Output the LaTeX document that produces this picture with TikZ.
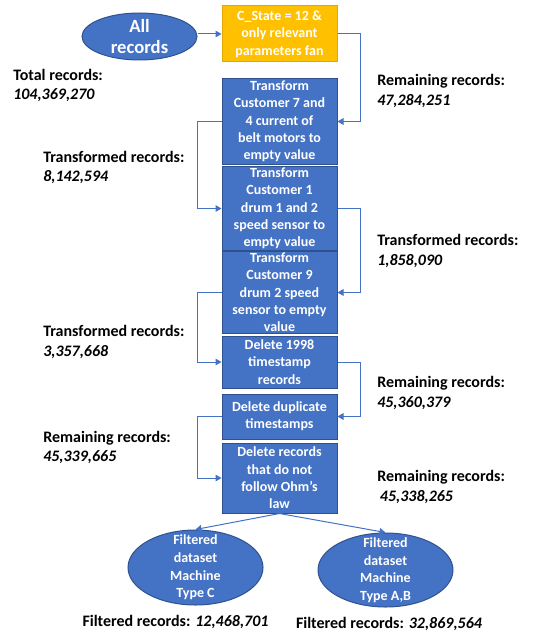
\documentclass[tikz,border=0pt]{standalone}
\usepackage{fontspec}
\setmainfont{Carlito}
\usetikzlibrary{arrows.meta,shapes.geometric}
\definecolor{boxblue}{HTML}{4472C4}
\definecolor{boxedge}{HTML}{2F528F}
\definecolor{fanorange}{HTML}{FFC000}
\definecolor{fanedge}{HTML}{E0A800}
\tikzset{
	procbox/.style={draw=boxedge, fill=boxblue, line width=0.75pt, text=white,
		font=\fontsize{10.5}{13}\selectfont\bfseries, align=center,
		minimum width=86.25pt, inner sep=1pt},
	fanbox/.style={procbox, draw=fanedge, fill=fanorange},
	dataell/.style={ellipse, draw=boxedge, fill=boxblue, line width=0.75pt, text=white,
		font=\fontsize{10.5}{13.2}\selectfont\bfseries, align=center,
		inner xsep=0pt, inner ysep=-8pt},
	recnote/.style={font=\fontsize{12}{14.5}\selectfont\bfseries, align=left,
		anchor=west, inner sep=0pt},
	flow/.style={draw=boxblue, line width=0.75pt, -{Triangle[length=4.5pt,width=5pt]}}
}
\begin{document}
\begin{tikzpicture}[x=0.75pt,y=-0.75pt]
			%%%%% START %%%%%
			\useasboundingbox (0,0) rectangle (543,635);
			
			\node[dataell, minimum width=86.25pt, minimum height=35.25pt,
				font=\fontsize{14}{15.75}\selectfont\bfseries] (allrec) at (139.5,36.5) {All\\records};
			\node[fanbox, minimum height=42pt] (fan) at (279.5,34) {C\_State = 12 \&\\only relevant\\parameters fan};
			
			\node[procbox, minimum height=63.75pt] (cust7) at (279.5,121.5) {Transform\\Customer 7 and\\4 current of\\belt motors to\\empty value};
			\node[procbox, minimum height=60.75pt] (cust1) at (279.5,208.5) {Transform\\Customer 1\\drum 1 and 2\\speed sensor to\\empty value};
			\node[procbox, minimum height=59.25pt] (cust9) at (279.5,292.5) {Transform\\Customer 9\\drum 2 speed\\sensor to empty\\value};
			\node[procbox, minimum height=39pt] (del98) at (279.5,362) {Delete 1998\\timestamp\\records};
			\node[procbox, minimum height=33.75pt] (deldup) at (279.5,416.5) {Delete duplicate\\timestamps};
			\node[procbox, minimum height=52.5pt] (ohm) at (279.5,478) {Delete records\\that do not\\follow Ohm’s\\law};
			
			\node[dataell, minimum width=101.25pt, minimum height=56.25pt] (typeC) at (195.5,567.5) {Filtered\\dataset\\Machine\\Type C};
			\node[dataell, minimum width=101.25pt, minimum height=55.5pt] (typeAB) at (385.5,570) {Filtered\\dataset\\Machine\\Type A,B};
			
			% record counts
			\node[recnote] (total) at (13,85.5) {Total records:\\\textit{104,369,270}};
			\node[recnote] (remfan) at (377,91) {Remaining records:\\\textit{47,284,251}};
			\node[recnote] (trcust7) at (43,167.5) {Transformed records:\\\textit{8,142,594}};
			\node[recnote] (trcust1) at (377,251) {Transformed records:\\\textit{1,858,090}};
			\node[recnote] (trcust9) at (43,342) {Transformed records:\\\textit{3,357,668}};
			\node[recnote] (remdel98) at (377,393) {Remaining records:\\\textit{45,360,379}};
			\node[recnote] (remdup) at (43,447.5) {Remaining records:\\\textit{45,339,665}};
			\node[recnote] (remohm) at (377,487) {Remaining records:\\\hspace{2pt}\textit{45,338,265}};
			\node[recnote, anchor=center] (filtC) at (175.5,622) {Filtered records: \textit{12,468,701}};
			\node[recnote, anchor=center] (filtAB) at (389,624) {Filtered records: \textit{32,869,564}};
			
			% flow
			\draw[flow] (allrec.east |- fan.west) -- (fan.west);
			\draw[flow] (fan.east) -- ++(23,0) |- (cust7.east);
			\draw[flow] (cust7.west) -- ++(-24,0) |- (cust1.west);
			\draw[flow] (cust1.east) -- ++(23,0) |- (cust9.east);
			\draw[flow] (cust9.west) -- ++(-24,0) |- (del98.west);
			\draw[flow] (del98.east) -- ++(23,0) |- (deldup.east);
			\draw[flow] (deldup.west) -- ++(-24,0) |- (ohm.west);
			\draw[flow] (ohm.south) -- (typeC.north);
			\draw[flow] (ohm.south) -- (typeAB.north);
			
			%%%%% END %%%%%
\end{tikzpicture}
\end{document}
